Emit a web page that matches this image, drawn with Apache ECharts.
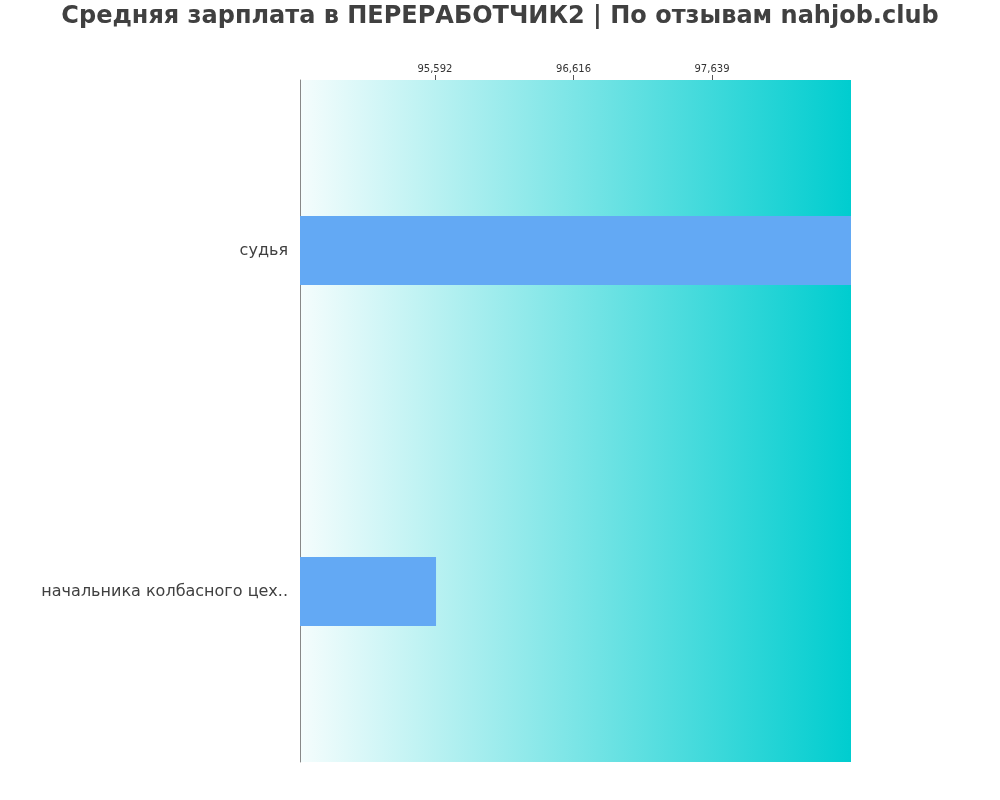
<!DOCTYPE html>
<html><head><meta charset="utf-8">
<script src="https://cdn.jsdelivr.net/npm/echarts@6/dist/echarts.min.js"></script>
<style>html,body{margin:0;padding:0;background:#fff}#c{width:1000px;height:800px}</style>
</head><body><div id="c"></div>
<script>
const categories = ['начальника колбасного цех..', 'судья'];
const values = [95600, 98666];
const tickValues = [95592, 96616, 97639];
const axisMin = 94595, axisMax = 98666;

const chart = echarts.init(document.getElementById('c'));
chart.setOption({
  animation: false,
  textStyle: {fontFamily: 'DejaVu Sans'},
  title: {text: 'Средняя зарплата в ПЕРЕРАБОТЧИК2 | По отзывам nahjob.club', left: 'center', top: 0,
    textStyle: {fontSize: 24, fontWeight: 'bold', color: '#404040', fontFamily: 'DejaVu Sans'}},
  grid: {left: 300, right: 149, top: 80, bottom: 38, show: true, borderWidth: 0,
    backgroundColor: {type: 'linear', x: 0, y: 0, x2: 1, y2: 0,
      colorStops: [{offset: 0, color: '#f5fdfd'}, {offset: 1, color: '#00cdcf'}]}},
  xAxis: {type: 'value', position: 'top', min: axisMin, max: axisMax,
    axisLine: {show: false}, splitLine: {show: false},
    axisTick: {show: true, customValues: tickValues, length: 5, lineStyle: {color: '#555'}},
    axisLabel: {customValues: tickValues, fontSize: 10, color: '#333', margin: 6}},
  yAxis: {type: 'category', data: categories,
    axisLine: {show: true, lineStyle: {color: '#888'}}, axisTick: {show: false},
    axisLabel: {fontSize: 16, color: '#404040', margin: 12}},
  series: [{type: 'bar', data: values, barWidth: 69, itemStyle: {color: '#63a9f4'}}]
});
</script></body></html>
